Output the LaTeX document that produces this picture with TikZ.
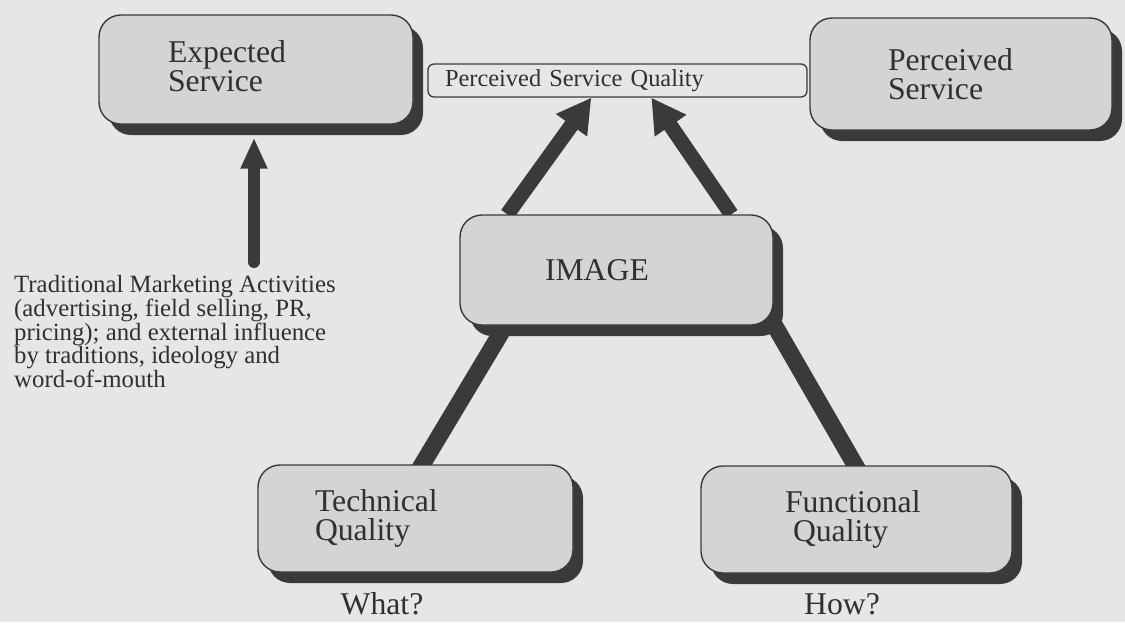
\documentclass[tikz,border=0pt]{standalone}
\usepackage{fontspec}
\setmainfont{Liberation Serif}
\usetikzlibrary{arrows.meta,shadows,calc}
\definecolor{paper}{HTML}{E4E6E8}
\definecolor{boxfill}{HTML}{D3D4D6}
\definecolor{ink}{HTML}{3A3A3A}
\definecolor{txt}{HTML}{303030}
\pgfdeclarelayer{back}
\pgfsetlayers{back,main}
\begin{document}
\begin{tikzpicture}[x=1pt,y=-1pt,
  box/.style={draw=ink, line width=1.4pt, fill=boxfill, rounded corners=22pt,
    drop shadow={shadow xshift=10pt, shadow yshift=-11pt, fill=ink, opacity=1},
    inner ysep=0pt, align=left, text=txt,
    font=\fontsize{31.7}{29}\selectfont},
  slim/.style={draw=ink, line width=1.3pt, fill=paper, rounded corners=6pt,
    inner ysep=0pt, align=left, text=txt,
    font=\fontsize{24.4}{24}\selectfont},
  caption/.style={text=txt, inner sep=0pt, font=\fontsize{31.7}{29}\selectfont},
  note/.style={text=txt, inner sep=0pt, align=left,
    font=\fontsize{24.8}{23.8}\selectfont},
  bigarrow/.style={draw=ink, line width=15pt,
    -{Triangle[width=36pt,length=34pt]}},
  smallarrow/.style={draw=ink, line width=12pt, line cap=round,
    -{Triangle[width=25pt,length=31pt]}},
  bar/.style={draw=ink, line width=17pt, shorten <=-12pt, shorten >=-12pt}]

% canvas
\begin{pgfonlayer}{back}
  \fill[paper] (0,0) rectangle (1125,622);
\end{pgfonlayer}

% boxes
\node[box, minimum height=109pt, inner xsep=69pt, text width=176pt]
  (exp) at (256,69.5) {Expected\\Service\vspace*{6pt}};
\node[box, minimum height=112pt, inner xsep=78pt, text width=146pt]
  (ps) at (961,74) {Perceived\\Service};
\node[slim, minimum height=33pt, inner xsep=17pt, text width=345pt]
  (psq) at (617.5,80.5) {Perceived Service Quality};
\node[box, minimum height=110pt, inner xsep=85pt, text width=143pt]
  (img) at (616.5,270) {IMAGE};
\node[box, minimum height=107pt, inner xsep=57pt, text width=201pt]
  (tq) at (415.5,518.5) {Technical\\Quality};
\node[box, minimum height=107pt, inner xsep=84pt, text width=143pt]
  (fq) at (856.5,519.5) {Functional\\\hspace*{8pt}Quality};

% captions and note
\node[caption, anchor=base] (what) at (382,614) {What?};
\node[caption, anchor=base] (how) at (842,614) {How?};
\node[note, anchor=north west] (trad) at (14,275)
  {Traditional Marketing Activities\\
   (advertising, field selling, PR,\\
   pricing); and external influence\\
   by traditions, ideology and\\
   word-of-mouth};
\coordinate (tradtop) at (254,262);

% connectors
\begin{pgfonlayer}{back}
  \draw[smallarrow, shorten >=13pt] (tradtop) -- (tradtop |- exp.south);
  \draw[bigarrow] ($(img.north west)+(48,0)$) -- ($(psq.south west)+(164,0)$);
  \draw[bigarrow] ($(img.north west)+(272,0)$) -- ($(psq.south west)+(224,0)$);
  \draw[bar] ($(tq.north west)+(165,0)$) -- ($(img.south west)+(46,0)$);
  \draw[bar] ($(fq.north west)+(155,0)$) -- ($(img.south east)+(1,0)$);
\end{pgfonlayer}
\end{tikzpicture}
\end{document}
